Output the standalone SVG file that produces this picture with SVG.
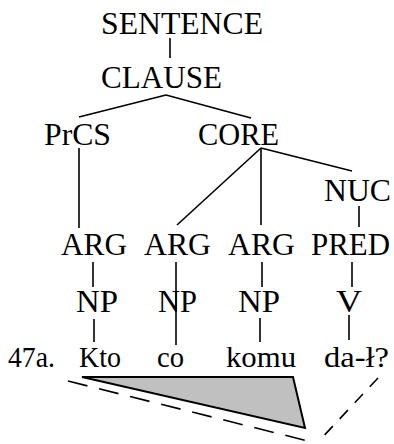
<svg xmlns="http://www.w3.org/2000/svg" width="394" height="444" viewBox="0 0 394 444">
  <style>
    .lbl { font-family: "Liberation Serif", "Times New Roman", serif; font-size: 31px; fill: #000; }
    .word { font-family: "Liberation Serif", "Times New Roman", serif; font-size: 30px; fill: #000; }
    .edge { stroke: #000; stroke-width: 1.6; fill: none; }
    .dash { stroke: #000; stroke-width: 1.6; fill: none; }
  </style>
  <rect width="394" height="444" fill="#fff"/>

  <!-- connectors -->
  <g id="edges">
    <line class="edge" x1="170" y1="38" x2="170" y2="58"/>
    <line class="edge" x1="166" y1="95" x2="79" y2="117"/>
    <line class="edge" x1="166" y1="95" x2="251" y2="118"/>
    <line class="edge" x1="79" y1="148" x2="79" y2="228"/>
    <line class="edge" x1="261" y1="148" x2="177" y2="225"/>
    <line class="edge" x1="261" y1="148" x2="261" y2="225"/>
    <line class="edge" x1="261" y1="148" x2="352" y2="171"/>
    <line class="edge" x1="359" y1="206" x2="359" y2="227"/>
    <line class="edge" x1="93" y1="262" x2="93" y2="287"/>
    <line class="edge" x1="176" y1="262" x2="176" y2="345"/>
    <line class="edge" x1="262" y1="262" x2="262" y2="287"/>
    <line class="edge" x1="352" y1="262" x2="352" y2="287"/>
    <line class="edge" x1="94" y1="319" x2="94" y2="342"/>
    <line class="edge" x1="260" y1="318" x2="260" y2="342"/>
    <line class="edge" x1="349" y1="315" x2="349" y2="340"/>
  </g>

  <!-- constituent nodes -->
  <g id="sentence"><text class="lbl" x="101" y="34" textLength="162" lengthAdjust="spacingAndGlyphs">SENTENCE</text></g>
  <g id="clause"><text class="lbl" x="101" y="88" textLength="121" lengthAdjust="spacingAndGlyphs">CLAUSE</text></g>
  <g id="prcs"><text class="lbl" x="44" y="145" textLength="67" lengthAdjust="spacingAndGlyphs">PrCS</text></g>
  <g id="core"><text class="lbl" x="198" y="145" textLength="81" lengthAdjust="spacingAndGlyphs">CORE</text></g>
  <g id="nuc"><text class="lbl" x="324" y="201" textLength="67" lengthAdjust="spacingAndGlyphs">NUC</text></g>
  <g id="arg1"><text class="lbl" x="61" y="255" textLength="66" lengthAdjust="spacingAndGlyphs">ARG</text></g>
  <g id="arg2"><text class="lbl" x="144" y="255" textLength="67" lengthAdjust="spacingAndGlyphs">ARG</text></g>
  <g id="arg3"><text class="lbl" x="228" y="255" textLength="67" lengthAdjust="spacingAndGlyphs">ARG</text></g>
  <g id="pred"><text class="lbl" x="311" y="255" textLength="79" lengthAdjust="spacingAndGlyphs">PRED</text></g>
  <g id="np1"><text class="lbl" x="76" y="312" textLength="42" lengthAdjust="spacingAndGlyphs">NP</text></g>
  <g id="np2"><text class="lbl" x="158" y="312" textLength="39" lengthAdjust="spacingAndGlyphs">NP</text></g>
  <g id="np3"><text class="lbl" x="238" y="312" textLength="42" lengthAdjust="spacingAndGlyphs">NP</text></g>
  <g id="v"><text class="lbl" x="336" y="312" textLength="26" lengthAdjust="spacingAndGlyphs">V</text></g>

  <!-- example sentence -->
  <g id="ex-num"><text class="word" x="8" y="367" textLength="47" lengthAdjust="spacingAndGlyphs">47a.</text></g>
  <g id="w-kto"><text class="word" x="79" y="367" textLength="42" lengthAdjust="spacingAndGlyphs">Kto</text></g>
  <g id="w-co"><text class="word" x="157" y="367" textLength="27" lengthAdjust="spacingAndGlyphs">co</text></g>
  <g id="w-komu"><text class="word" x="226" y="367" textLength="70" lengthAdjust="spacingAndGlyphs">komu</text></g>
  <g id="w-dal"><text class="word" x="324" y="367" textLength="65" lengthAdjust="spacingAndGlyphs">da-ł?</text></g>

  <!-- scope triangle and dashed outline -->
  <g id="scope">
    <polygon points="82,377 293,377 305,428" fill="#c0c0c0" stroke="#000" stroke-width="2" stroke-linejoin="miter"/>
    <line class="dash" x1="68" y1="381" x2="316" y2="443" stroke-dasharray="20 12"/>
    <line class="dash" x1="378" y1="378" x2="318" y2="442" stroke-dasharray="12 10"/>
  </g>
</svg>
